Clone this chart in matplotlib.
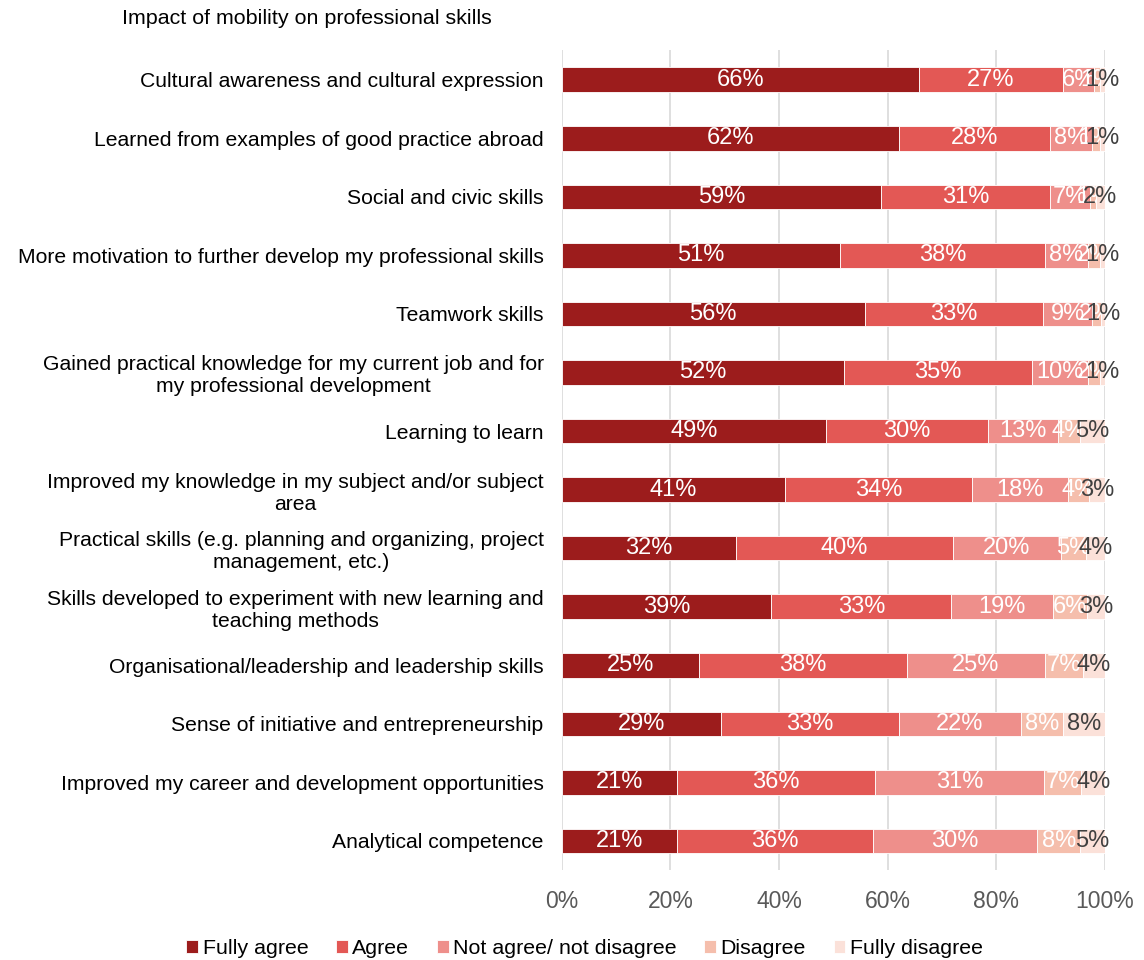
import numpy as np
import matplotlib
matplotlib.use('Agg')
import matplotlib.pyplot as plt

plt.rcParams['font.family'] = ['Liberation Sans', 'DejaVu Sans']

skills = [
    'Cultural awareness and cultural expression',
    'Learned from examples of good practice abroad',
    'Social and civic skills',
    'More motivation to further develop my professional skills',
    'Teamwork skills',
    'Gained practical knowledge for my current job and for\nmy professional development',
    'Learning to learn',
    'Improved my knowledge in my subject and/or subject\narea',
    'Practical skills (e.g. planning and organizing, project\nmanagement, etc.)',
    'Skills developed to experiment with new learning and\nteaching methods',
    'Organisational/leadership and leadership skills',
    'Sense of initiative and entrepreneurship',
    'Improved my career and development opportunities',
    'Analytical competence',
]

fully_agree = [65.7, 62.1, 58.8, 51.2, 55.8, 51.9, 48.6, 41.1, 32.0, 38.6, 25.2, 29.3, 21.2, 21.2]
agree = [26.6, 27.8, 31.0, 37.7, 32.8, 34.7, 29.9, 34.4, 40.1, 33.1, 38.3, 32.8, 36.4, 36.1]
neutral = [5.6, 7.7, 7.4, 8.0, 9.0, 10.3, 12.8, 17.7, 19.7, 18.8, 25.4, 22.4, 31.2, 30.2]
disagree = [1.2, 1.4, 1.1, 2.2, 1.6, 2.1, 4.1, 3.8, 4.6, 6.2, 7.0, 7.8, 6.8, 7.9]
fully_disagree = [0.9, 1.0, 1.7, 0.9, 0.8, 1.0, 4.6, 3.0, 3.6, 3.3, 4.1, 7.7, 4.4, 4.6]

series = [
    ('Fully agree', fully_agree, '#9C1C1C', 'white'),
    ('Agree', agree, '#E35855', 'white'),
    ('Not agree/ not disagree', neutral, '#EE8F8B', 'white'),
    ('Disagree', disagree, '#F5BEAC', 'white'),
    ('Fully disagree', fully_disagree, '#FBE1D9', '#404040'),
]

fig = plt.figure(figsize=(11.44, 9.6), dpi=100)
ax = fig.add_axes([0.491, 0.0935, 0.475, 0.854])

y = np.arange(len(skills))
left = np.zeros(len(skills))
for name, vals, color, txt in series:
    vals = np.array(vals)
    bars = ax.barh(y, vals, left=left, height=0.42, color=color, label=name,
                   edgecolor='white', linewidth=0.6, zorder=3)
    ax.bar_label(bars, labels=['{:.0f}%'.format(v) for v in vals],
                 label_type='center', color=txt, fontsize=17)
    left += vals

ax.set_xlim(0, 100)
ax.set_ylim(len(skills) - 0.5, -0.5)
ax.set_xticks(np.arange(0, 101, 20))
ax.set_xticklabels(['{}%'.format(v) for v in range(0, 101, 20)])
ax.set_yticks(y)
ax.set_yticklabels(skills, fontsize=15.2, multialignment='center')
ax.tick_params(axis='x', length=0, pad=14, labelsize=16.5, labelcolor='#595959')
ax.tick_params(axis='y', length=0, pad=13)
ax.grid(axis='x', color='#D9D9D9', linewidth=1.2, zorder=0)
for s in ax.spines.values():
    s.set_visible(False)

fig.text(122 / 1144, 1 - 18 / 960, 'Impact of mobility on professional skills',
         fontsize=15.4, va='center', ha='left')

fig.legend(loc='center', bbox_to_anchor=(0.511, 0.012), ncol=5, frameon=False,
           fontsize=15.4, handlelength=0.55, handleheight=0.55, handletextpad=0.2,
           columnspacing=1.3)

fig.savefig('out.png', dpi=100)
